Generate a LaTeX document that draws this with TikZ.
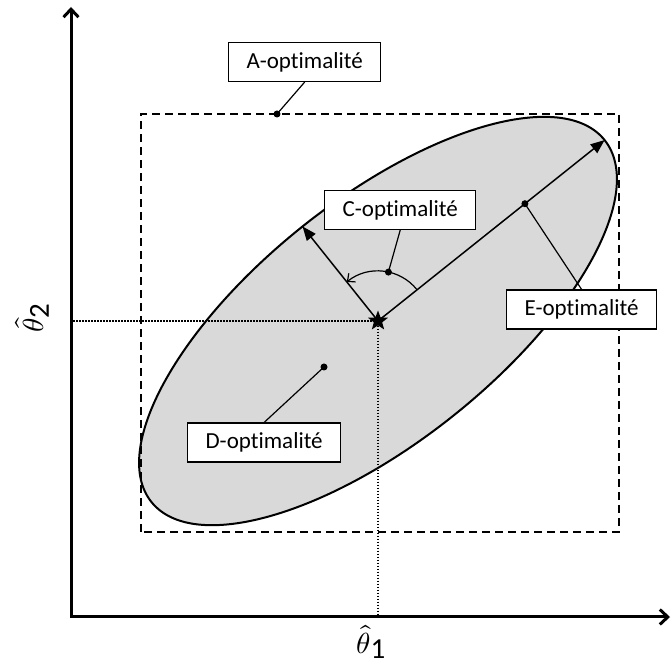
\documentclass[tikz,border=0pt]{standalone}
\usepackage{fontspec}
\usepackage{unicode-math}
\setmainfont{Carlito}[Ligatures=NoCommon]
\usepackage{tikz}
\usetikzlibrary{shapes.geometric, arrows.meta, calc}
\definecolor{mygray}{RGB}{217,217,217}
\tikzset{
  optbox/.style={rectangle, draw=black, fill=white, line width=1.2pt,
    minimum height=39pt, inner xsep=18pt, inner ysep=2pt,
    font=\fontsize{23}{25}\selectfont},
  axisarrow/.style={line width=3pt,
    {Straight Barb[length=8pt, width=15pt]}-{Straight Barb[length=8pt, width=15pt]}},
  semiarrow/.style={-{Triangle[length=14pt, width=11pt]}, line width=1.5pt},
  leader/.style={line width=1.2pt},
  guide/.style={line width=1.3pt, dash pattern=on 1.5pt off 1.5pt},
  dotmark/.style={circle, fill=black, inner sep=0pt, minimum size=7pt}
}

\begin{document}
\begin{tikzpicture}[x=1pt, y=1pt]
  \useasboundingbox (0,0) rectangle (672,668);

  % Confidence ellipse
  \coordinate (ctr) at (378,347);
  \draw[line width=2pt, fill=mygray, rotate around={38.6:(ctr)}]
    (ctr) ellipse [x radius=290pt, y radius=121pt];

  % Bounding box of the ellipse
  \draw[line width=1.5pt, dash pattern=on 8pt off 5pt] (141,136) rectangle (619,554);

  % Axes
  \coordinate (orig) at (71,51);
  \coordinate (ytip) at (71,661);
  \coordinate (xtip) at (670,51);
  \draw[axisarrow] (ytip) -- (orig) -- (xtip);
  \node[font=\fontsize{29}{31}\selectfont, inner sep=1pt] (thone) at (371,26)
    {$\hat{\theta}$\raisebox{-5pt}{1}};
  \node[font=\fontsize{29}{31}\selectfont, rotate=90] (thtwo) at (32,350) {$\hat{\theta}$\raisebox{-5pt}{2}};

  % Estimate and its projections
  \node[star, star points=5, star point ratio=2.4, fill=black, inner sep=0pt,
    minimum size=21pt] (thetahat) at (ctr) {};
  \draw[guide] (thetahat) -- (thetahat -| orig);
  \draw[guide] (thetahat) -- (thetahat |- orig);

  % Semi-axes
  \coordinate (majend) at ($(ctr)+(38.6:290)$);
  \coordinate (minend) at ($(ctr)+(128.6:121)$);
  \draw[semiarrow] (ctr) -- (majend);
  \draw[semiarrow] (ctr) -- (minend);
  \draw[line width=1.2pt, -{Straight Barb[length=6pt, width=11pt]}]
    ($(ctr)+(38.6:50)$) arc [start angle=38.6, end angle=128.6, radius=50pt];

  % Marks
  \node[dotmark] (adot) at (277,554) {};
  \node[dotmark] (cdot) at ($(ctr)+(78:50)$) {};
  \node[dotmark] (ddot) at (324,301) {};
  \node[dotmark] (edot) at ($(ctr)+(38.6:188)$) {};

  % Criteria
  \node[optbox, anchor=west] (aopt) at (228,606) {A-optimalité};
  \node[optbox, anchor=west] (copt) at (324,458) {C-optimalité};
  \node[optbox, anchor=west] (dopt) at (187,225.5) {D-optimalité};
  \node[optbox, anchor=west] (eopt) at (506,358.5) {E-optimalité};
  \draw[leader] (aopt.south) -- (adot.center);
  \draw[leader] (copt.south) -- (cdot.center);
  \draw[leader] (dopt.north) -- (ddot.center);
  \draw[leader] (eopt.north) -- (edot.center);
\end{tikzpicture}
\end{document}
